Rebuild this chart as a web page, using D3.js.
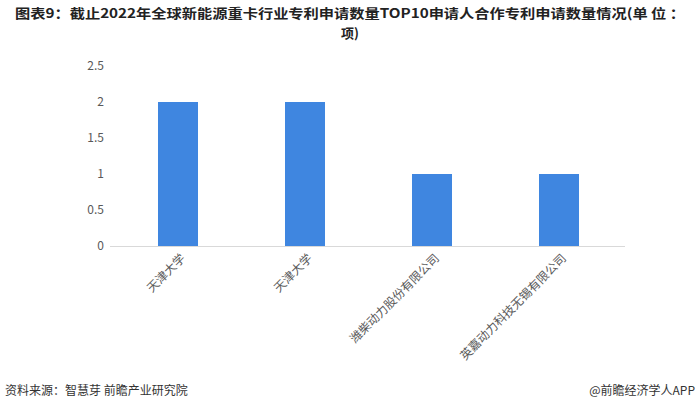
<!DOCTYPE html>
<html><head><meta charset="utf-8">
<script src="https://cdn.jsdelivr.net/npm/d3@7"></script>
<style>body{margin:0;background:#fff}svg{display:block}</style>
</head><body>
<svg id="c" width="700" height="411"></svg>
<script>
const categories = ["天津大学","天津大学","潍柴动力股份有限公司","英嘉动力科技无锡有限公司"];
const values = [2,2,1,1];
const yTicks = [0,0.5,1,1.5,2,2.5];
const yTickLabels = ["0","0.5","1","1.5","2","2.5"];
const titleLines = ["图表9：截止2022年全球新能源重卡行业专利申请数量TOP10申请人合作专利申请数量情况(单 位 ：","项)"];
const source = "资料来源：智慧芽 前瞻产业研究院";
const credit = "@前瞻经济学人APP";

const svg = d3.select("#c");
const font = "'Noto Sans CJK SC','Noto Sans',sans-serif";

const x = d3.scaleBand().domain(d3.range(categories.length)).range([114.5,622.5]).paddingInner(0.685).paddingOuter(0.3425);
const y = d3.scaleLinear().domain([0,2.5]).range([246,66]);

// title
svg.append("g").selectAll("text").data(titleLines).join("text")
  .attr("x",350).attr("y",(d,i)=>18+i*19.5).attr("text-anchor","middle")
  .attr("font-family",font).attr("font-weight","bold").attr("font-size",13)
  .attr("fill","#222").attr("textLength",(d,i)=>i===0?670:null)
  .attr("lengthAdjust","spacingAndGlyphs").text(d=>d);

// y axis labels
svg.append("g").selectAll("text").data(yTicks).join("text")
  .attr("x",104).attr("y",d=>y(d)).attr("dy","0.35em").attr("text-anchor","end")
  .attr("font-family",font).attr("font-size",12).attr("fill","#595959")
  .text((d,i)=>yTickLabels[i]);

// baseline
svg.append("line").attr("x1",110).attr("x2",625).attr("y1",y(0)+0.5).attr("y2",y(0)+0.5)
  .attr("stroke","#d9d9d9").attr("stroke-width",1);

// bars
svg.append("g").selectAll("rect").data(values).join("rect")
  .attr("x",(d,i)=>x(i)).attr("width",x.bandwidth())
  .attr("y",d=>y(d)).attr("height",d=>y(0)-y(d)).attr("fill","#3f86e0");

// x labels
svg.append("g").selectAll("text").data(categories).join("text")
  .attr("transform",(d,i)=>`translate(${x(i)+x.bandwidth()/2+5},256) rotate(-45)`)
  .attr("text-anchor","end").attr("dy","0.35em")
  .attr("font-family",font).attr("font-size",12).attr("fill","#595959").text(d=>d);

// footer
svg.append("text").attr("x",5).attr("y",395).attr("font-family",font).attr("font-size",12)
  .attr("fill","#333").text(source);
svg.append("text").attr("x",695).attr("y",395).attr("text-anchor","end").attr("font-family",font).attr("font-size",12)
  .attr("fill","#333").text(credit);
</script>
</body></html>
